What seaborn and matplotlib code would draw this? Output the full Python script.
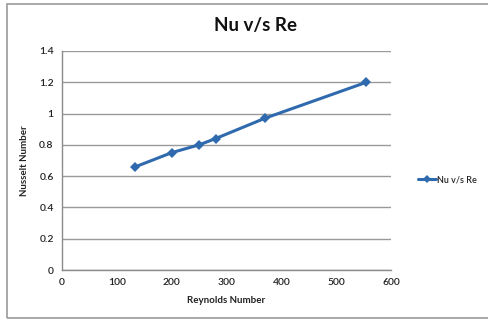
import matplotlib
matplotlib.use("Agg")
import matplotlib.pyplot as plt
import seaborn as sns
import pandas as pd
from matplotlib.patches import Rectangle
from matplotlib.lines import Line2D

reynolds = [134, 200, 250, 280, 370, 555]
nusselt = [0.66, 0.75, 0.80, 0.84, 0.97, 1.20]
series_name = "Nu v/s Re"
x_ticks = [0, 100, 200, 300, 400, 500, 600]
y_ticks = [0, 0.2, 0.4, 0.6, 0.8, 1, 1.2, 1.4]
y_tick_labels = ["0", "0.2", "0.4", "0.6", "0.8", "1", "1.2", "1.4"]

df = pd.DataFrame({"Re": reynolds, "Nu": nusselt})

sns.set_style("white")
plt.rcParams["font.family"] = ["Lato", "DejaVu Sans"]

W, H = 489, 321
fig = plt.figure(figsize=(W / 100, H / 100), dpi=100)
ax = fig.add_axes([62 / W, (H - 270) / H, (391 - 62) / W, (270 - 51) / H])

color = "#2F6AAE"
sns.lineplot(data=df, x="Re", y="Nu", ax=ax, color=color, linewidth=2.2,
             marker="D", markersize=5, markeredgewidth=0, legend=False)

ax.set_xlim(0, 600)
ax.set_ylim(0, 1.4)
ax.set_xticks(x_ticks)
ax.set_yticks(y_ticks)
ax.set_yticklabels(y_tick_labels)
ax.yaxis.grid(True, color="#9a9a9a", linewidth=1.0)
ax.xaxis.grid(False)
ax.set_axisbelow(True)
for s in ["top", "right"]:
    ax.spines[s].set_visible(False)
for s in ["left", "bottom"]:
    ax.spines[s].set_color("#8a8a8a")
    ax.spines[s].set_linewidth(1.0)
ax.tick_params(axis="both", labelsize=7.5, colors="#8a8a8a", labelcolor="#222222",
               length=3, width=1, direction="out", pad=3)
for lbl in ax.get_xticklabels() + ax.get_yticklabels():
    lbl.set_fontweight("semibold")
ax.set_xlabel("Reynolds Number", fontsize=7, fontweight="bold", color="#222222", labelpad=6)
ax.set_ylabel("Nusselt Number", fontsize=7, fontweight="bold", color="#222222", labelpad=7)

fig.text(256 / W, 1 - 26 / H, "Nu v/s Re", ha="center", va="center",
         fontsize=13.5, fontweight="bold", color="#111111")

handle = Line2D([], [], color=color, linewidth=2.2, marker="D", markersize=4,
                markeredgewidth=0)
fig.legend([handle], [series_name], loc="center left",
           bbox_to_anchor=(414 / W, 1 - 180 / H), frameon=False,
           prop={"size": 6.5, "weight": "semibold"},
           handlelength=2.0, handletextpad=0.1, borderaxespad=0)

fig.patches.append(Rectangle((7 / W, 3 / H), (W + 5 - 7) / W, (318 - 4) / H,
                             transform=fig.transFigure, fill=False,
                             edgecolor="#9a9a9a", linewidth=1.2))

fig.savefig("out.png", dpi=100)
